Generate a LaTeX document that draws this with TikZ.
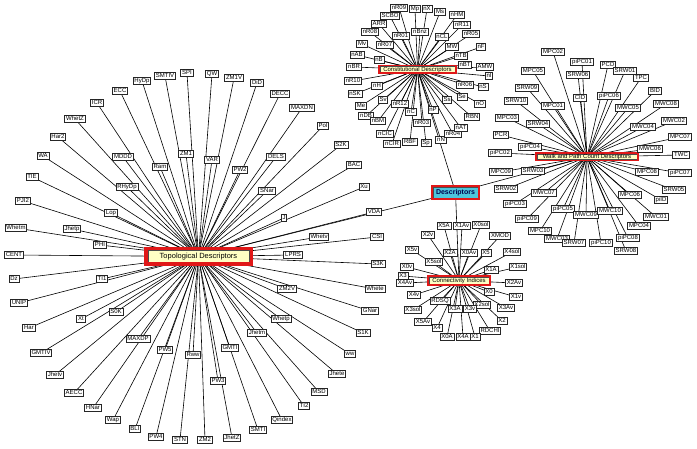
\documentclass[tikz,border=0pt]{standalone}
\usepackage{fontspec}
\setmainfont{Liberation Sans}
\usetikzlibrary{backgrounds}
\definecolor{hubred}{HTML}{E01818}
\definecolor{hubfill}{HTML}{FFFFC4}
\definecolor{desccyan}{HTML}{4CC6DC}
\begin{document}
\begin{tikzpicture}[x=1pt,y=-1pt,
  leaf/.style={draw=black!85, fill=white, line width=0.75pt,
    font=\fontsize{6}{6}\selectfont, inner xsep=1.3pt, inner ysep=1pt,
    text height=4.4pt, text depth=0.5pt},
  hub/.style={draw=hubred, fill=hubfill, inner sep=0pt,
    font=\fontsize{6}{6}\selectfont, text height=4.4pt, text depth=1.2pt,
    path picture={\draw[black!70,line width=0.5pt]
      ([shift={(#1,-#1)}]path picture bounding box.north west) rectangle
      ([shift={(-#1,#1)}]path picture bounding box.south east);}},
  hub/.default=1pt,
  edge/.style={black, line width=0.6pt}]
\useasboundingbox (0,0) rectangle (697,449);

% hubs
\node[hub=2pt, line width=3.5pt, minimum width=105.5pt, minimum height=15.5pt,
  font=\fontsize{7.5}{8}\selectfont] (topo) at (198.5,256.5) {Topological Descriptors};
\node[hub=1pt, line width=1.6pt, minimum width=77.4pt, minimum height=7.6pt] (const) at (417.5,69.5) {Constitutional Descriptors};
\node[hub=1pt, line width=1.6pt, minimum width=102.4pt, minimum height=7.4pt] (walk) at (587,157) {Walk and Path Count Descriptors};
\node[hub=1pt, line width=1.8pt, minimum width=62.4pt, minimum height=9.4pt] (conn) at (459,280.5) {Connectivity Indices};
\node[hub=1.2pt, fill=desccyan, line width=2pt, minimum width=47pt, minimum height=13pt,
  font=\fontsize{7}{7}\bfseries, text=blue!30!black] (desc) at (455.5,192.5) {Descriptors};

\begin{pgfonlayer}{background}
\foreach \h in {topo,const,walk,conn}
  \draw[edge] (desc.center) -- (\h.center);
\end{pgfonlayer}

% constitutional
\foreach \n/\x/\y in {nR09/399/7.5, Mp/415/9, nX/427/9, Ms/440/12, nHM/457/15,
  SCBO/390/16, nR11/462/25, ARR/379/24, nR08/370/32, nR01/401/35.5, nBnz/420/32,
  nCL/442/37, nR05/471/34, Mv/362/44, nR07/385/45, MW/452/47, nF/481/47,
  nAB/357/55, nTB/461/56, nB/379/60, nBR/354/67, nBT/465/65, AMW/485/67,
  nI/489/76, nR10/353/81, nR06/465/85, nS/483/87, nH/377/86, nSK/355/94,
  Sv/383/100, nR12/400/104, Ss/447/100, Se/462/97, nO/480/104, Me/361/106,
  nDB/366/116, nBM/378/121, nC/411/112, nP/433/110, nN/441/140, Sp/426/143,
  RBF/410/142, nCIR/392/144, nCIC/385/134, nR03/422/123, nR04/453/134,
  nAT/461/128, RBN/472/117} {
  \node[leaf] (\n) at (\x,\y) {\n};
  \begin{pgfonlayer}{background}\draw[edge] (const.center) -- (\n.center);\end{pgfonlayer}
}

% walk and path
\foreach \n/\x/\y in {MPC02/553/52, piPC01/582/62, PCD/608/65, MPC05/533/71,
  SRW06/578/75, SRW01/625/71, TPC/641/78, SRW09/527/88, piPC06/609/96,
  CID/580/98, BID/655/91, SRW10/516/101, MPC01/553/106, MWC05/628/108,
  MWC08/666/104, MPC03/507/118, SRW04/538/124, MWC04/643/127, MWC02/674/121,
  PCR/501/135, MPC07/680/137, piPC04/530/147, MWC06/650/149, piPC02/500/153,
  TWC/681/155, MPC09/501/172, SRW03/533/171, MPC08/647/172, piPC07/680/173,
  SRW02/506/189, MWC07/544/193, SRW05/674/190, MPC06/630/195, piID/661/200,
  piPC03/515/204, piPC05/563/209, MWC09/586/215, MWC10/610/211, MWC01/656/217,
  piPC09/527/219, MPC04/639/226, MPC10/540/231, MWC03/557/239, SRW07/574/243,
  piPC10/601/243, piPC08/628/238, SRW08/626/251} {
  \node[leaf] (\n) at (\x,\y) {\n};
  \begin{pgfonlayer}{background}\draw[edge] (walk.center) -- (\n.center);\end{pgfonlayer}
}

% connectivity
\foreach \n/\x/\y in {X5A/444/226, X1Av/462/226, X0sol/481/225, X2v/428/235,
  XMOD/500/236, X5v/412/250, X2A/450/253, X0Av/469/253, X5/486/253,
  X4sol/512/252, X5sol/434/262, X0v/407/267, X1A/491/270, X1sol/518/267,
  X3/403/276, X4Av/405/283, X2Av/514/283, X0/489/292, X4v/414/295,
  X1v/516/297, RDSQ/440/301, X2sol/482/305, X3Av/506/308, X3sol/413/310,
  X3A/455/309, X3v/470/309, X5Av/423/322, X2/502/321, X4/437/328,
  RDCHI/490/331, X0A/447/337, X4A/463/337, X1/475/337} {
  \node[leaf] (\n) at (\x,\y) {\n};
  \begin{pgfonlayer}{background}\draw[edge] (conn.center) -- (\n.center);\end{pgfonlayer}
}

% topological
\foreach \n/\x/\y in {SMTIV/165/76, SPI/187/73, QW/212/74, ZM1V/234/78,
  HyDp/142/81, DiD/257/83, ECC/120/91, DECC/280/94, ICR/97/103, MAXDN/302/108,
  Pol/323/126, S2K/341/145, ZM1/186/154, VAR/212/160, MDDD/123/157,
  DELS/276/157, WhetZ/75/119, Har2/58/137, WA/43/156, Ram/160/167,
  PW2/240/170, BAC/354/165, TIE/32/177, RHyDp/127/187, SNar/267/191,
  Xu/364/187, PJI2/23/201, Lop/111/213, J/284/218, VDA/374/212,
  Whetm/16/228, Jhetp/72/229, PHI/100/245, Whetv/319/237, CSI/377/237,
  CENT/14/255, LPRS/293/255, S3K/378/264, Dz/14/279, TI1/102/279,
  ZM2V/287/289, Whete/375/289, UNIP/19/303, GNar/370/311, S0K/116/312,
  Xt/81/319, Whetp/281/319, Har/29/328, S1K/363/333, MAXDP/138/339,
  Jhetm/257/333, PW5/165/350, GMTIV/41/353, Rww/193/355, GMTI/230/348,
  ww/350/354, Jhetv/55/375, PW3/218/381, Jhete/337/374, AECC/74/393,
  MSD/319/392, HNar/93/408, TI2/304/406, Wap/113/420, Qindex/282/420,
  BLI/135/429, SMTI/258/430, PW4/156/437, STN/180/440, ZM2/205/440,
  JhetZ/232/438} {
  \node[leaf] (\n) at (\x,\y) {\n};
  \begin{pgfonlayer}{background}\draw[edge] (topo.center) -- (\n.center);\end{pgfonlayer}
}
\end{tikzpicture}
\end{document}
